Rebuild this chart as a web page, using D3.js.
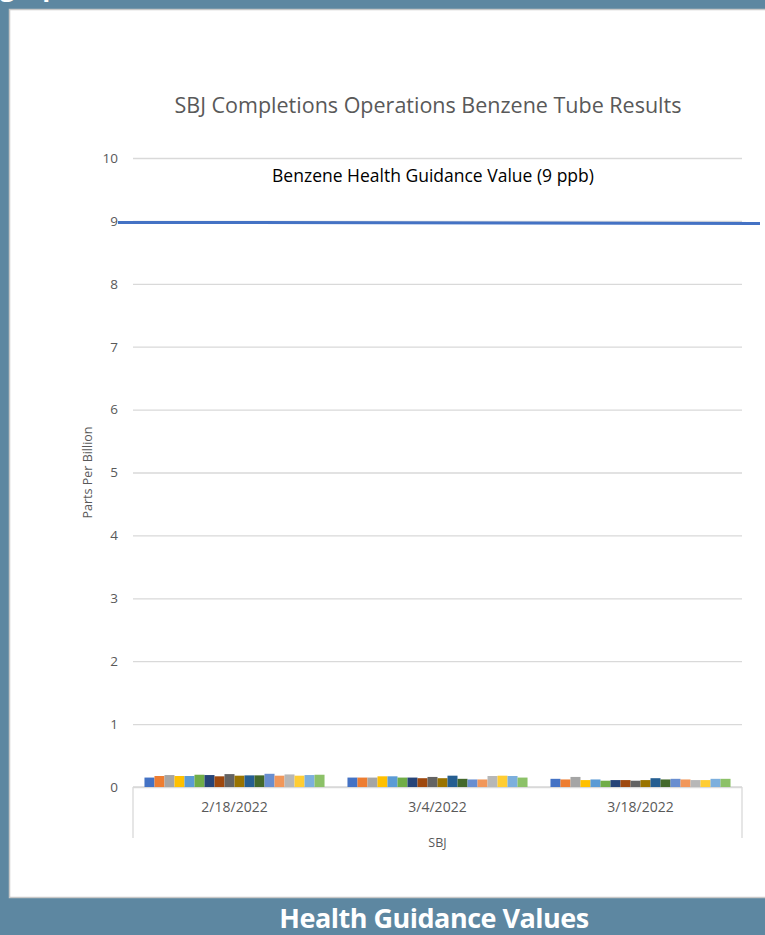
<!DOCTYPE html>
<html>
<head>
<meta charset="utf-8">
<script src="https://cdn.jsdelivr.net/npm/d3@7"></script>
<style>
  body { margin: 0; background: #5d87a1; }
  svg { display: block; }
</style>
</head>
<body>
<script>
/* DATA */
var dates = ['2/18/2022', '3/4/2022', '3/18/2022'];
var groupLabel = 'SBJ';
var tubes = d3.range(1, 19).map(d => 'Tube ' + d);
var feb18 = [0.15, 0.175, 0.19, 0.175, 0.175, 0.195, 0.19, 0.17, 0.205, 0.18, 0.185, 0.185, 0.21, 0.18, 0.2, 0.18, 0.19, 0.195];
var mar4 = [0.15, 0.15, 0.15, 0.17, 0.17, 0.15, 0.15, 0.14, 0.16, 0.14, 0.18, 0.13, 0.12, 0.12, 0.175, 0.18, 0.175, 0.15];
var mar18 = [0.13, 0.12, 0.16, 0.11, 0.12, 0.10, 0.11, 0.11, 0.10, 0.11, 0.14, 0.12, 0.13, 0.12, 0.11, 0.11, 0.13, 0.13];
var yTicks = [0, 1, 2, 3, 4, 5, 6, 7, 8, 9, 10];
var guidanceValue = 9;

var seriesByDate = [feb18, mar4, mar18];

/* STYLE */
var width = 765, height = 935;
var barColors = ['#4472c4', '#ed7d31', '#a5a5a5', '#ffc000', '#5b9bd5', '#70ad47',
                 '#264478', '#9e480e', '#636363', '#997300', '#255e91', '#43682b',
                 '#698ed0', '#f1975a', '#b7b7b7', '#ffcd33', '#7cafdd', '#8cc168'];
var textGray = '#595959';
var gridColor = '#d9d9d9';
var font = 'Open Sans, Liberation Sans, sans-serif';

var plot = {left: 133, right: 742, top: 158, bottom: 787};

const svg = d3.select('body').append('svg')
    .attr('width', width)
    .attr('height', height);

// heading above, mostly cut off by the top edge
svg.append('text')
    .attr('x', 0)
    .attr('y', -4)
    .attr('fill', 'white')
    .style('font', 'bold 26px ' + font)
    .text('graphs');

// white panel
svg.append('rect')
    .attr('x', 9.5)
    .attr('y', 9.5)
    .attr('width', width)
    .attr('height', 888)
    .attr('fill', 'white')
    .attr('stroke', '#c8c8c8')
    .attr('stroke-width', 1.5);

// footer banner
svg.append('text')
    .attr('x', 434)
    .attr('y', 928)
    .attr('text-anchor', 'middle')
    .attr('fill', 'white')
    .style('font', 'bold 27px ' + font)
    .style('letter-spacing', '-0.5px')
    .text('Health Guidance Values');

/* SCALES */
const y = d3.scaleLinear()
    .domain([0, 10])
    .range([plot.bottom, plot.top]);

const x0 = d3.scaleBand()
    .domain(dates)
    .range([plot.left, plot.right])
    .paddingInner(0.113)
    .paddingOuter(0.0565);

const x1 = d3.scaleBand()
    .domain(tubes)
    .range([0, x0.bandwidth()]);

/* GRID + Y AXIS */
const yAxis = svg.append('g')
    .attr('transform', `translate(${plot.left},0)`)
    .call(d3.axisLeft(y).tickValues(yTicks).tickSize(-(plot.right - plot.left)).tickPadding(15));
yAxis.select('.domain').remove();
yAxis.selectAll('.tick line')
    .attr('stroke', gridColor)
    .attr('stroke-width', 1.3);
yAxis.selectAll('.tick text')
    .attr('fill', textGray)
    .style('font', '13.5px ' + font);

// category axis with separators
svg.append('line')
    .attr('x1', plot.left).attr('x2', plot.right)
    .attr('y1', y(0)).attr('y2', y(0))
    .attr('stroke', gridColor).attr('stroke-width', 1.3);
[plot.left, plot.right].forEach(px => {
    svg.append('line')
        .attr('x1', px).attr('x2', px)
        .attr('y1', y(0)).attr('y2', 838)
        .attr('stroke', gridColor).attr('stroke-width', 1.3);
});

svg.append('g').selectAll('text')
    .data(dates)
    .join('text')
    .attr('x', d => x0(d) + x0.bandwidth() / 2)
    .attr('y', 812)
    .attr('text-anchor', 'middle')
    .attr('fill', textGray)
    .style('font', '14px ' + font)
    .text(d => d);

svg.append('text')
    .attr('x', (plot.left + plot.right) / 2)
    .attr('y', 847)
    .attr('text-anchor', 'middle')
    .attr('fill', textGray)
    .style('font', '12.5px ' + font)
    .text(groupLabel);

/* BARS */
const groups = svg.append('g').selectAll('g')
    .data(dates)
    .join('g')
    .attr('transform', d => `translate(${x0(d)},0)`);

groups.selectAll('rect')
    .data((d, i) => seriesByDate[i].map((v, j) => ({tube: tubes[j], value: v, idx: j})))
    .join('rect')
    .attr('x', d => x1(d.tube))
    .attr('width', x1.bandwidth())
    .attr('y', d => y(d.value))
    .attr('height', d => y(0) - y(d.value))
    .attr('fill', d => barColors[d.idx]);

/* GUIDANCE LINE */
svg.append('line')
    .attr('x1', plot.left - 15)
    .attr('x2', 760)
    .attr('y1', y(guidanceValue) + 1.5)
    .attr('y2', y(guidanceValue) + 2.5)
    .attr('stroke', '#4472c4')
    .attr('stroke-width', 3);

svg.append('text')
    .attr('x', 433)
    .attr('y', 182)
    .attr('text-anchor', 'middle')
    .attr('fill', 'black')
    .style('font', '17.5px ' + font)
    .text('Benzene Health Guidance Value (9 ppb)');

/* TITLES */
svg.append('text')
    .attr('x', 428)
    .attr('y', 113)
    .attr('text-anchor', 'middle')
    .attr('fill', textGray)
    .style('font', '21.5px ' + font)
    .text('SBJ Completions Operations Benzene Tube Results');

svg.append('text')
    .attr('transform', `translate(92,${(plot.top + plot.bottom) / 2}) rotate(-90)`)
    .attr('text-anchor', 'middle')
    .attr('fill', textGray)
    .style('font', '12.5px ' + font)
    .text('Parts Per Billion');
</script>
</body>
</html>
